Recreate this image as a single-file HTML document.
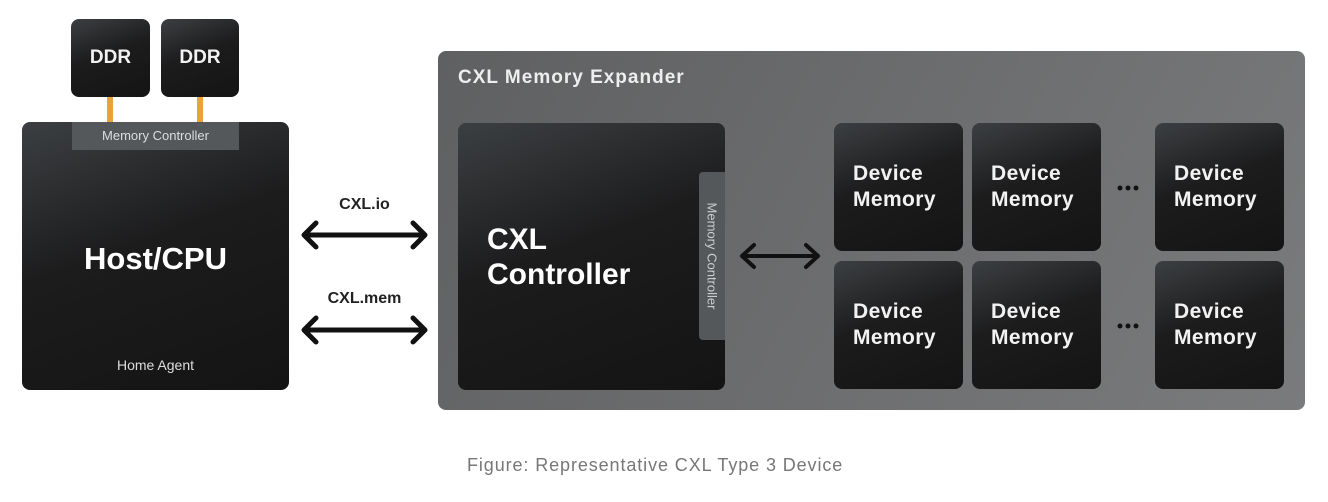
<!DOCTYPE html>
<html><head><meta charset="utf-8"><style>
body{margin:0;width:1328px;height:502px;background:#fff;position:relative;overflow:hidden;font-family:"Liberation Sans",sans-serif;}
.b{position:absolute;border-radius:8px;background:linear-gradient(160deg,#3c3f42 0%,#1c1c1d 45%,#141414 100%);color:#f2f2f2;box-sizing:border-box;}
.t{position:absolute;white-space:nowrap;}
.dm{width:129px;height:128px;font-size:21px;font-weight:bold;line-height:26px;padding:38px 0 0 19px;letter-spacing:0.4px;}
</style></head><body>
<div class="b" style="left:71px;top:19px;width:79px;height:78px;font-size:19px;font-weight:bold;text-align:center;line-height:78px;">DDR</div>
<div class="b" style="left:161px;top:19px;width:78px;height:78px;font-size:19px;font-weight:bold;text-align:center;line-height:78px;">DDR</div>
<div style="position:absolute;left:107px;top:97px;width:6px;height:26px;background:#e8a33a"></div>
<div style="position:absolute;left:197px;top:97px;width:6px;height:26px;background:#e8a33a"></div>
<div class="b" style="left:22px;top:122px;width:267px;height:268px;"></div>
<div style="position:absolute;left:72px;top:122px;width:167px;height:28px;background:#55585b;color:#ddd;font-size:13px;text-align:center;line-height:28px;">Memory Controller</div>
<div class="t" style="left:22px;width:267px;text-align:center;top:241px;font-size:31px;font-weight:bold;color:#fff;">Host/CPU</div>
<div class="t" style="left:22px;width:267px;text-align:center;top:357px;font-size:14px;color:#ddd;">Home Agent</div>

<div class="t" style="left:302px;width:125px;text-align:center;top:196px;font-size:16px;font-weight:bold;color:#222;">CXL.io</div>
<div class="t" style="left:302px;width:125px;text-align:center;top:290px;font-size:16px;font-weight:bold;color:#222;">CXL.mem</div>
<svg style="position:absolute;left:0;top:0" width="1328" height="502">
<g stroke="#111" stroke-width="5" fill="none" stroke-linecap="round" stroke-linejoin="round">
<path d="M304 235H425M316 223L304 235L316 247M413 223L425 235L413 247"/>
<path d="M304 330H425M316 318L304 330L316 342M413 318L425 330L413 342"/>
</g>
</svg>

<div style="position:absolute;left:438px;top:51px;width:867px;height:359px;border-radius:8px;background:linear-gradient(120deg,#5f6061,#6f7071 60%,#7a7b7c);"></div>
<div class="t" style="left:458px;top:67px;font-size:19px;font-weight:bold;color:#eee;letter-spacing:1px;">CXL Memory Expander</div>
<div class="b" style="left:458px;top:123px;width:267px;height:267px;"></div>
<div class="t" style="left:487px;top:222px;font-size:30px;font-weight:bold;color:#fff;line-height:35px;">CXL<br>Controller</div>
<div style="position:absolute;left:699px;top:172px;width:26px;height:168px;background:#55585b;border-radius:4px 0 0 4px;"></div>
<div class="t" style="left:712px;top:256px;transform:translate(-50%,-50%) rotate(90deg);font-size:13px;color:#ccc;">Memory Controller</div>
<svg style="position:absolute;left:0;top:0" width="1328" height="502">
<g stroke="#111" stroke-width="4" fill="none" stroke-linecap="round" stroke-linejoin="round">
<path d="M742 256H818M754 245L742 256L754 267M806 245L818 256L806 267"/>
</g>
<g fill="#111"><circle cx="1120" cy="188" r="2.5"/><circle cx="1128" cy="188" r="2.5"/><circle cx="1136" cy="188" r="2.5"/>
<circle cx="1120" cy="326" r="2.5"/><circle cx="1128" cy="326" r="2.5"/><circle cx="1136" cy="326" r="2.5"/></g>
</svg>
<div class="b dm" style="left:834px;top:123px;">Device<br>Memory</div>
<div class="b dm" style="left:972px;top:123px;">Device<br>Memory</div>
<div class="b dm" style="left:1155px;top:123px;">Device<br>Memory</div>
<div class="b dm" style="left:834px;top:261px;">Device<br>Memory</div>
<div class="b dm" style="left:972px;top:261px;">Device<br>Memory</div>
<div class="b dm" style="left:1155px;top:261px;">Device<br>Memory</div>

<div class="t" style="left:467px;top:455px;font-size:18px;color:#777;letter-spacing:0.9px;">Figure: Representative CXL Type 3 Device</div>
</body></html>
